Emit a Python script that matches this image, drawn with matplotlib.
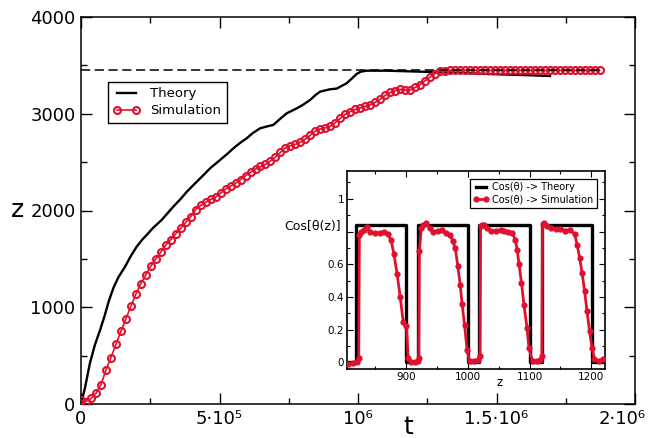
import numpy as np
import matplotlib
matplotlib.use("Agg")
import matplotlib.pyplot as plt
from matplotlib.ticker import MultipleLocator

RED = '#e0102f'

# main plot: theory curve (t in units of 1e3)
theory_t = [0, 14, 32, 50, 69, 85, 100, 117, 135, 159, 180, 201, 220, 237, 260, 291, 333,
            360, 382, 418, 440, 466, 502, 530, 550, 575, 598, 620, 646, 670, 694, 720,
            743, 779, 800, 827, 845, 863, 899, 923, 959, 980, 995, 1010, 1031, 1104,
            1224, 1350, 1465, 1600, 1693]
theory_z = [0, 162, 420, 610, 765, 910, 1060, 1200, 1310, 1419, 1530, 1626, 1695, 1747,
            1820, 1902, 2039, 2120, 2194, 2298, 2360, 2436, 2522, 2590, 2643, 2700, 2746,
            2800, 2849, 2868, 2884, 2950, 3005, 3056, 3090, 3142, 3190, 3228, 3253, 3260,
            3315, 3370, 3411, 3435, 3445, 3445, 3435, 3425, 3411, 3400, 3390]

# main plot: simulation (t in units of 1e3)
sim_t = [0, 18, 36, 54, 72, 90, 108, 126, 144, 162, 180, 198, 216, 234, 252, 270, 288,
         306, 324, 342, 360, 378, 396, 414, 432, 450, 468, 486, 504, 522, 540, 558, 576,
         594, 612, 630, 648, 666, 684, 702, 720, 738, 756, 774, 792, 810, 828, 846, 864,
         882, 900, 918, 936, 954, 972, 990, 1008, 1026, 1044, 1062, 1080, 1098, 1116,
         1134, 1152, 1170, 1188, 1206, 1224, 1242, 1260, 1278, 1296, 1314, 1332, 1350,
         1368, 1386, 1404, 1422, 1440, 1458, 1476, 1494, 1512, 1530, 1548, 1566, 1584,
         1602, 1620, 1638, 1656, 1674, 1692, 1710, 1728, 1746, 1764, 1782, 1800, 1818,
         1836, 1854, 1872]
sim_z = [41, 24, 58, 110, 200, 350, 480, 615, 750, 880, 1010, 1135, 1245, 1335, 1425,
         1500, 1570, 1640, 1700, 1760, 1815, 1877, 1937, 2010, 2052, 2085, 2114, 2138,
         2180, 2220, 2253, 2282, 2320, 2360, 2396, 2430, 2455, 2477, 2512, 2552, 2600,
         2648, 2670, 2684, 2707, 2738, 2778, 2822, 2844, 2854, 2872, 2908, 2952, 2995,
         3022, 3045, 3060, 3075, 3094, 3118, 3150, 3190, 3220, 3240, 3251, 3246, 3247,
         3272, 3302, 3340, 3378, 3416, 3440, 3447, 3448, 3448, 3448, 3448, 3448, 3448,
         3448, 3448, 3448, 3448, 3448, 3448, 3448, 3448, 3448, 3448, 3448, 3448, 3448,
         3448, 3448, 3448, 3448, 3448, 3448, 3448, 3448, 3448, 3448, 3448, 3448]

z_limit = 3450
x_ticks = [0, 5e5, 1e6, 1.5e6, 2e6]
x_labels = ['0', '5·10⁵', '10⁶', '1.5·10⁶', '2·10⁶']

# inset: cos(theta) vs z
cos_theory_z = [805, 820, 820, 901, 901, 920, 920, 1000, 1000, 1019, 1019, 1100, 1100,
                1120, 1120, 1201, 1201, 1220]
cos_theory = [0, 0, 0.843, 0.843, 0, 0, 0.843, 0.843, 0, 0, 0.843, 0.843, 0, 0, 0.843,
              0.843, 0, 0]

cos_sim_z = [807, 815, 821, 824, 825, 828, 832, 837, 842, 850, 858, 865, 871, 876, 881,
             886, 891, 896, 901, 904, 909, 915, 919, 921, 922, 925, 928, 933, 939, 944,
             952, 958, 965, 972, 976, 980, 984, 988, 991, 995, 999, 1003, 1010, 1016,
             1020, 1021, 1023, 1027, 1032, 1038, 1046, 1054, 1059, 1066, 1072, 1077,
             1080, 1083, 1087, 1091, 1096, 1099, 1105, 1112, 1117, 1120, 1121, 1124,
             1129, 1134, 1142, 1150, 1158, 1166, 1173, 1177, 1181, 1185, 1189, 1193,
             1197, 1201, 1205, 1212, 1219]
cos_sim = [-0.01, -0.005, 0.005, 0.03, 0.78, 0.80, 0.81, 0.83, 0.80, 0.79, 0.79, 0.80,
           0.785, 0.75, 0.66, 0.54, 0.40, 0.245, 0.225, 0.027, 0.0, 0.0, 0.01, 0.03,
           0.68, 0.82, 0.84, 0.85, 0.82, 0.80, 0.806, 0.81, 0.79, 0.777, 0.74, 0.70,
           0.59, 0.475, 0.357, 0.23, 0.078, 0.006, 0.006, 0.016, 0.037, 0.832, 0.843,
           0.843, 0.822, 0.806, 0.802, 0.812, 0.802, 0.798, 0.792, 0.751, 0.69, 0.602,
           0.486, 0.353, 0.21, 0.088, 0.006, 0.006, 0.016, 0.037, 0.847, 0.853, 0.832,
           0.822, 0.818, 0.818, 0.806, 0.812, 0.782, 0.72, 0.639, 0.547, 0.435, 0.312,
           0.19, 0.088, 0.023, 0.01, 0.023]

fig = plt.figure(figsize=(6.5, 4.38), dpi=100)
ax = fig.add_axes([81/650, 1-404/438, 554/650, 387/438])

ax.plot(np.array(theory_t)*1e3, theory_z, color='black', lw=1.7, label='Theory', zorder=2)
ax.plot(np.array(sim_t)*1e3, sim_z, color=RED, lw=1.2, marker='o', ms=5,
        mfc='none', mec=RED, mew=1.5, label='Simulation', zorder=3)
ax.plot([0, sim_t[-1]*1e3], [z_limit, z_limit], color='black', lw=1.1,
        ls=(0, (6, 3)), zorder=4)

ax.set_xlim(0, 2e6)
ax.set_ylim(0, 4000)
ax.set_xticks(x_ticks)
ax.set_xticklabels(x_labels[:-1] + [''])
# last label sits left of its tick, as in the original
ax.annotate(x_labels[-1], xy=(x_ticks[-1], 0), xycoords=('data', 'axes fraction'),
            xytext=(-9, -4), textcoords='offset points', ha='center', va='top',
            fontsize=13, annotation_clip=False)
ax.xaxis.set_minor_locator(MultipleLocator(2.5e5))
ax.set_yticks([0, 1000, 2000, 3000, 4000])
ax.yaxis.set_minor_locator(MultipleLocator(500))
ax.tick_params(which='both', direction='in', top=True, right=True, labelsize=13, width=1)
ax.tick_params(which='major', length=8, pad=4)
ax.tick_params(which='minor', length=4)
for s in ax.spines.values():
    s.set_linewidth(1.1)

leg = ax.legend(loc='upper left', bbox_to_anchor=(27/554, (404-82)/387), borderaxespad=0,
                fontsize=9.5, numpoints=2, fancybox=False, framealpha=1,
                edgecolor='black', handlelength=2.0, borderpad=0.4, labelspacing=0.3)
leg.get_frame().set_linewidth(1.0)

fig.text(18/650, 1-210/438, 'z', fontsize=18, ha='center', va='center')
fig.text(408/650, 1-427/438, 't', fontsize=18, ha='center', va='center')

# inset
ins = fig.add_axes([347/650, 1-369/438, 258/650, 198/438])
ins.plot(cos_theory_z, cos_theory, color='black', lw=2.4, label='Cos(θ) -> Theory', zorder=2)
ins.plot(cos_sim_z, cos_sim, color=RED, lw=2.0, marker='o', ms=3.5, mfc=RED, mec=RED,
         label='Cos(θ) -> Simulation', zorder=3)
ins.set_xlim(805, 1222)
ins.set_ylim(-0.04, 1.17)
ins.set_xticks([900, 1000, 1100, 1200])
ins.xaxis.set_minor_locator(MultipleLocator(50))
ins.set_yticks([0, 0.2, 0.4, 0.6, 0.8, 1])
ins.set_yticklabels(['0', '0.2', '0.4', '0.6', '', '1'])
ins.yaxis.set_minor_locator(MultipleLocator(0.1))
ins.tick_params(which='both', direction='in', top=True, right=True, labelsize=7.5, width=0.8)
ins.tick_params(which='major', length=4, pad=2)
ins.tick_params(which='minor', length=2.5)
for s in ins.spines.values():
    s.set_linewidth(1.2)
ins.text(-0.025, 0.83, 'Cos[θ(z)]', transform=ins.get_yaxis_transform(), ha='right',
         va='center', fontsize=9)
fig.text(500/650, 1-383/438, 'z', fontsize=8.5, ha='center', va='center')

leg2 = ins.legend(loc='upper right', bbox_to_anchor=(250/258, 190/198), borderaxespad=0,
                  fontsize=7, numpoints=2, fancybox=False, framealpha=1,
                  edgecolor='black', handlelength=1.6, borderpad=0.35, labelspacing=0.25,
                  handletextpad=0.4)
leg2.get_frame().set_linewidth(0.9)

fig.savefig('out.png', dpi=100)
